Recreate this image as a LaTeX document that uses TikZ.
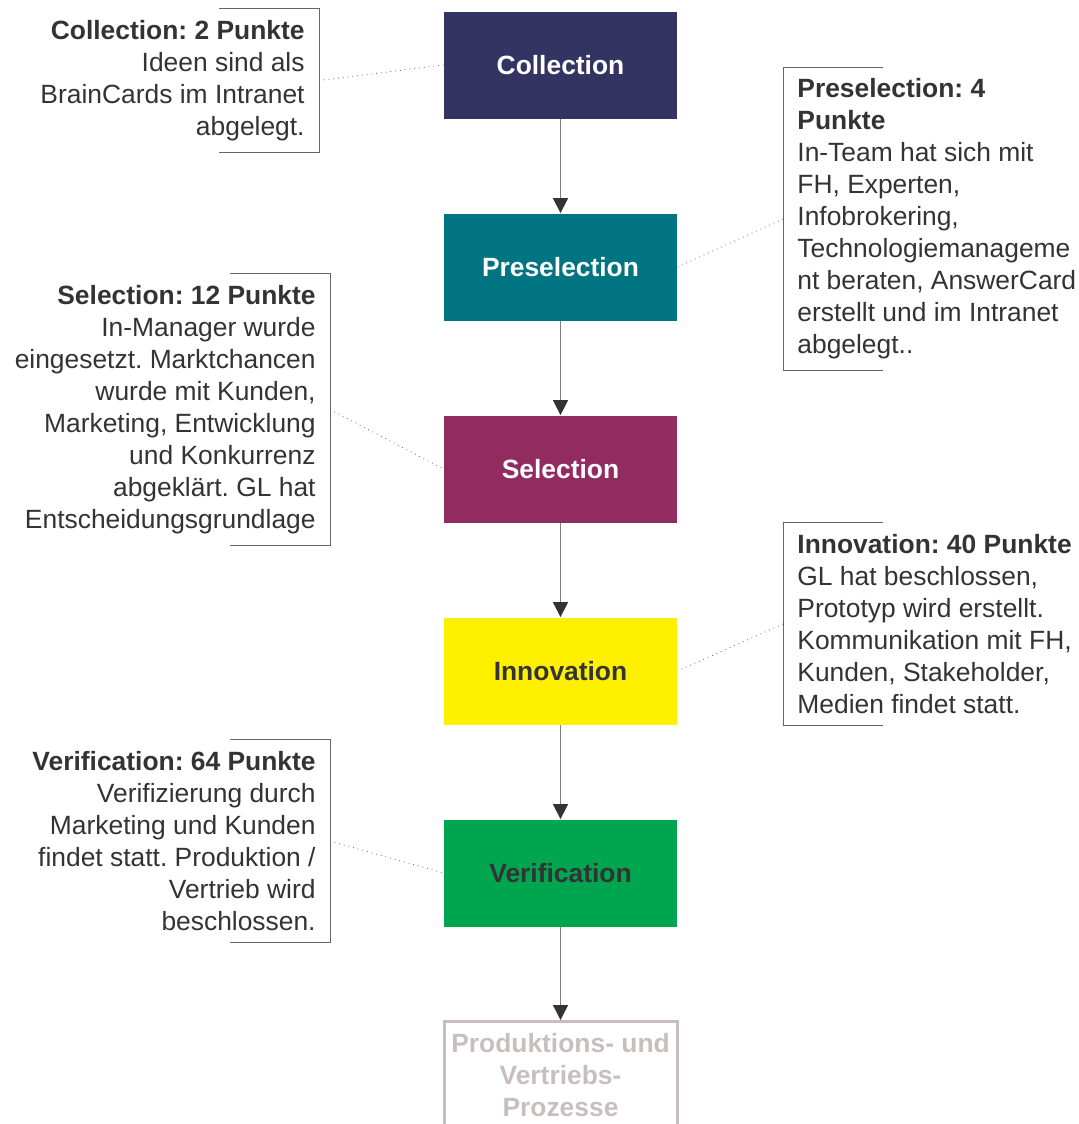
\documentclass[tikz,border=0pt]{standalone}
\usepackage{fontspec}
\setmainfont{Liberation Sans}
\usetikzlibrary{arrows.meta}
\frenchspacing
\definecolor{collcol}{HTML}{343462}
\definecolor{preselcol}{HTML}{007480}
\definecolor{selcol}{HTML}{922B5F}
\definecolor{innocol}{HTML}{FFF000}
\definecolor{verifcol}{HTML}{00A550}
\definecolor{textdark}{HTML}{333333}
\definecolor{outgray}{HTML}{C8BEBE}
\definecolor{rulegray}{HTML}{666666}
\tikzset{
  stage/.style={rectangle,minimum width=116.5pt,minimum height=53.5pt,inner sep=0pt,
    font=\fontsize{13.2}{16}\selectfont\bfseries,align=center},
  noteleft/.style={anchor=east,align=right,inner xsep=7pt,inner ysep=5.6pt,
    text=textdark,font=\fontsize{13.2}{16}\selectfont},
  noteright/.style={anchor=west,align=left,inner xsep=7pt,inner ysep=5.6pt,
    text=textdark,font=\fontsize{13.2}{16}\selectfont},
  bracket/.style={draw=rulegray,line width=0.5pt},
  leader/.style={draw=rulegray,line width=0.4pt,dotted},
  flow/.style={draw=gray,line width=0.7pt,-{Triangle[width=7.5pt,length=7.5pt,color=textdark]}}
}
\begin{document}
\begin{tikzpicture}[x=0.5pt,y=-0.5pt]
  \useasboundingbox (0,0) rectangle (1079,1124);
  % process stages
  \node[stage,fill=collcol,text=white] (coll) at (560.5,65) {Collection};
  \node[stage,fill=preselcol,text=white] (presel) at (560.5,267) {Preselection};
  \node[stage,fill=selcol,text=white] (sel) at (560.5,469) {Selection};
  \node[stage,fill=innocol,text=textdark] (inno) at (560.5,671) {Innovation};
  \node[stage,fill=verifcol,text=textdark] (verif) at (560.5,873) {Verification};
  \node[stage,draw=outgray,line width=1.5pt,text=outgray] (prod) at (560.5,1075)
    {Produktions- und\\Vertriebs-\\Prozesse};
  \draw[flow] (coll) -- (presel);
  \draw[flow] (presel) -- (sel);
  \draw[flow] (sel) -- (inno);
  \draw[flow] (inno) -- (verif);
  \draw[flow] (verif) -- (prod);
  % callouts
  \node[noteleft] (collnote) at (319,80.5) {\textbf{Collection: 2 Punkte}\\
    Ideen sind als\\BrainCards im Intranet\\abgelegt.};
  \node[noteright] (preselnote) at (783,219) {\textbf{Preselection: 4}\\\textbf{Punkte}\\
    In-Team hat sich mit\\FH, Experten,\\Infobrokering,\\Technologiemanageme\\
    nt beraten, AnswerCard\\erstellt und im Intranet\\abgelegt..};
  \node[noteleft] (selnote) at (330,409.5) {\textbf{Selection: 12 Punkte}\\
    In-Manager wurde\\eingesetzt. Marktchancen\\wurde mit Kunden,\\
    Marketing, Entwicklung\\und Konkurrenz\\abgeklärt. GL hat\\Entscheidungsgrundlage};
  \node[noteright] (innonote) at (783,624) {\textbf{Innovation: 40 Punkte}\\
    GL hat beschlossen,\\Prototyp wird erstellt.\\Kommunikation mit FH,\\
    Kunden, Stakeholder,\\Medien findet statt.};
  \node[noteleft] (verifnote) at (330,841) {\textbf{Verification: 64 Punkte}\\
    Verifizierung durch\\Marketing und Kunden\\findet statt. Produktion /\\
    Vertrieb wird\\beschlossen.};
  % brackets
  \foreach \n in {collnote,selnote,verifnote}
    \draw[bracket] ([xshift=-50pt]\n.north east) -- (\n.north east)
      -- (\n.south east) -- ([xshift=-50pt]\n.south east);
  \foreach \n in {preselnote,innonote}
    \draw[bracket] ([xshift=50pt]\n.north west) -- (\n.north west)
      -- (\n.south west) -- ([xshift=50pt]\n.south west);
  % leaders
  \draw[leader] (collnote.east) -- (coll.west);
  \draw[leader] (preselnote.west) -- (presel.east);
  \draw[leader] (selnote.east) -- (sel.west);
  \draw[leader] (innonote.west) -- (inno.east);
  \draw[leader] (verifnote.east) -- (verif.west);
\end{tikzpicture}
\end{document}
